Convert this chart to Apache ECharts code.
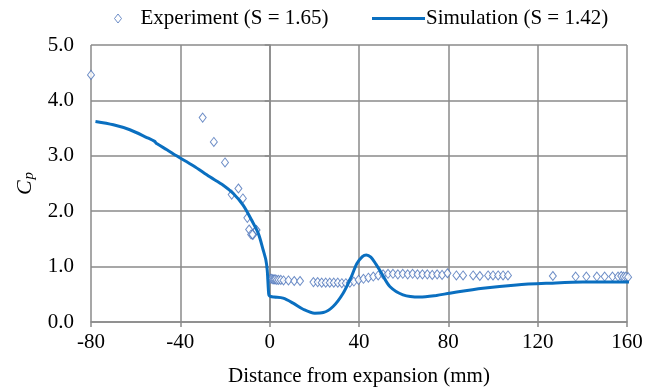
<!DOCTYPE html>
<html>
<head>
<meta charset="utf-8">
<script src="https://cdn.jsdelivr.net/npm/echarts@6/dist/echarts.min.js"></script>
<style>html,body{margin:0;padding:0;background:#fff}#c{width:662px;height:392px}</style>
</head>
<body>
<div id="c"></div>
<script>
var expX = [-80, -30, -25, -20, -17, -14, -12, -10, -9.2, -8.3, -7.5, -6, -5.9, -7.7,
  0.5, 1, 1.5, 2, 2.5, 3.2, 4, 5, 6.2, 8.4, 11, 13.6,
  19.6, 21.5, 23.3, 25.1, 26.9, 28.7, 30.5, 32.3, 34.1, 35.9, 37.7, 39.8,
  42, 44.2, 46.4, 48.6, 50.8, 53, 55.2, 57.4, 59.6,
  61.8, 64, 66.2, 68.4, 70.6, 72.8, 75, 77.2, 79.6,
  83.6, 86.6, 91.1, 94.1, 97.8, 100, 102.3, 104.5, 106.7,
  126.8, 137, 141.8, 146.5, 150, 153.5, 156, 157.4, 158.5, 159.5, 160.5];
var expY = [4.46, 3.69, 3.25, 2.88, 2.30, 2.41, 2.23, 1.88, 1.67, 1.58, 1.57, 1.66, 1.66, 1.58,
  0.78, 0.78, 0.77, 0.77, 0.77, 0.76, 0.76, 0.76, 0.75, 0.75, 0.74, 0.74,
  0.72, 0.72, 0.71, 0.71, 0.71, 0.71, 0.71, 0.70, 0.70, 0.71, 0.73, 0.76,
  0.78, 0.80, 0.82, 0.84, 0.86, 0.87, 0.87, 0.86, 0.87,
  0.86, 0.87, 0.86, 0.86, 0.86, 0.85, 0.86, 0.85, 0.88,
  0.84, 0.84, 0.84, 0.83, 0.84, 0.84, 0.84, 0.84, 0.84,
  0.83, 0.82, 0.82, 0.82, 0.82, 0.82, 0.82, 0.83, 0.82, 0.82, 0.81];
var simX = [-78, -70, -62.6, -55, -51.5, -50.6, -46, -41.7, -34.2, -26.8, -20.8, -16.3, -11.9, -8.1, -5.1, -2.9, -1.7, -1.1, -0.6, -0.3, 0.5, 2, 6, 10.5, 15, 20.2, 24, 28.4, 32.9, 36.6, 39, 41.5, 43.3, 45.3, 47.5, 50.1, 53.8, 59.7, 67.2, 74.7, 80.6, 95.5, 110.5, 125.4, 140.3, 161];
var simY = [3.62, 3.56, 3.47, 3.33, 3.26, 3.22, 3.11, 3.00, 2.82, 2.62, 2.47, 2.32, 2.11, 1.84, 1.60, 1.30, 1.12, 0.94, 0.60, 0.48, 0.46, 0.45, 0.43, 0.34, 0.23, 0.16, 0.17, 0.28, 0.52, 0.82, 1.05, 1.18, 1.21, 1.17, 1.05, 0.88, 0.64, 0.49, 0.45, 0.48, 0.52, 0.61, 0.67, 0.70, 0.72, 0.72];
var xTicks = [-80, -40, 0, 40, 80, 120, 160];
var yTicks = [0, 1, 2, 3, 4, 5];
var expName = 'Experiment (S = 1.65)';
var simName = 'Simulation (S = 1.42)';

function zip(a, b) { return a.map(function (v, i) { return [v, b[i]]; }); }
var FONT = '"Liberation Serif", "Times New Roman", serif';
var FS = 21;
var EXP_COLOR = '#4a72b9', SIM_COLOR = '#0a6fc0';
var chart = echarts.init(document.getElementById('c'), null, {renderer: 'canvas'});
chart.setOption({
  animation: false,
  backgroundColor: '#fff',
  textStyle: {fontFamily: FONT, color: '#000'},
  legend: [{
    data: [{name: expName, icon: 'diamond',
      itemStyle: {color: '#fff', borderColor: EXP_COLOR, borderWidth: 1}}],
    left: 109, top: 3, itemWidth: 7, itemHeight: 9, itemGap: 0,
    textStyle: {fontFamily: FONT, fontSize: FS, color: '#000', padding: [0, 0, 0, 14]}
  }, {
    data: [{name: simName, icon: 'rect', itemStyle: {color: SIM_COLOR}}],
    left: 367, top: 3, itemWidth: 53, itemHeight: 3,
    textStyle: {fontFamily: FONT, fontSize: FS, color: '#000', padding: [0, 0, 0, -4]}
  }],
  grid: {left: 91, right: 35, top: 45, bottom: 70, containLabel: false},
  xAxis: {
    type: 'value', min: xTicks[0], max: xTicks[xTicks.length - 1], interval: 40,
    name: 'Distance from expansion (mm)', nameLocation: 'middle', nameGap: 44,
    nameTextStyle: {fontFamily: FONT, fontSize: FS, color: '#000'},
    axisLine: {show: true, lineStyle: {color: '#8a8a8a', width: 1.5}},
    axisTick: {show: true, length: 5, lineStyle: {color: '#8a8a8a', width: 1.5}},
    splitLine: {show: true, lineStyle: {color: '#8a8a8a', width: 1.5}},
    axisLabel: {fontFamily: FONT, fontSize: FS, color: '#000', margin: 10}
  },
  yAxis: {
    type: 'value', min: yTicks[0], max: yTicks[yTicks.length - 1], interval: 1,
    name: '{c|C}{p|p}', nameLocation: 'middle', nameGap: 53, nameRotate: 90,
    nameTextStyle: {
      rich: {
        c: {fontFamily: FONT, fontSize: 22, fontStyle: 'italic', color: '#000'},
        p: {fontFamily: FONT, fontSize: 15, fontStyle: 'italic', color: '#000', padding: [9, 0, 0, 1]}
      }
    },
    axisLine: {show: true, lineStyle: {color: '#8a8a8a', width: 1.5}},
    axisTick: {show: true, length: 5, lineStyle: {color: '#8a8a8a', width: 1.5}},
    splitLine: {show: true, lineStyle: {color: '#8a8a8a', width: 1.5}},
    axisLabel: {fontFamily: FONT, fontSize: FS, color: '#000', margin: 17,
      formatter: function (v) { return v.toFixed(1); }}
  },
  series: [{
    name: expName, type: 'scatter', data: zip(expX, expY),
    symbol: 'diamond', symbolSize: [7, 9], clip: false,
    itemStyle: {color: '#fff', borderColor: EXP_COLOR, borderWidth: 1}
  }, {
    name: simName, type: 'line', data: zip(simX, simY), smooth: 0.3,
    showSymbol: false, symbol: 'none', clip: false,
    lineStyle: {color: SIM_COLOR, width: 3},
    itemStyle: {color: SIM_COLOR}
  }]
});
</script>
</body>
</html>
